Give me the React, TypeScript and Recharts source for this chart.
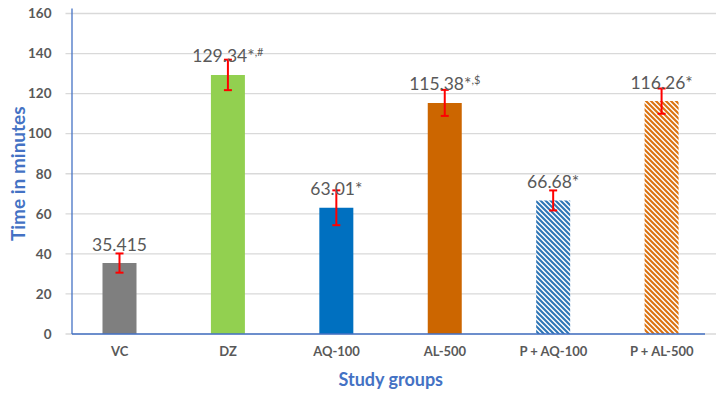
import React from 'react';
import { BarChart, Bar, XAxis, YAxis, CartesianGrid, Cell, ErrorBar, LabelList, Label } from 'recharts';

const categories = ['VC', 'DZ', 'AQ-100', 'AL-500', 'P + AQ-100', 'P + AL-500'];
const means = [35.415, 129.34, 63.01, 115.38, 66.68, 116.26];
const errors = [4.8, 7.6, 8.7, 6.5, 5.0, 6.3];
const labelMain = ['35.415', '129.34*', '63.01*', '115.38*', '66.68*', '116.26*'];
const labelSup = ['', ',#', '', ',$', '', ''];
const fills = ['#7F7F7F', '#92D050', '#0070C0', '#CC6600', 'url(#stripeBlue)', 'url(#stripeOrange)'];
const yTicks = [0, 20, 40, 60, 80, 100, 120, 140, 160];

const data = categories.map((name, i) => ({
  name,
  value: means[i],
  err: errors[i],
  main: labelMain[i],
  sup: labelSup[i],
}));

const FONT = 'Lato, "Open Sans", sans-serif';
const BLUE = '#4472C4';

const ValueLabel = (props: any) => {
  const { x, y, width, index } = props;
  const cx = x + width / 2;
  return (
    <text x={cx} y={y - 12.5} textAnchor="middle" fontFamily={FONT} fontSize={17.5} fill="#595959">
      <tspan>{labelMain[index]}</tspan>
      {labelSup[index] ? (
        <tspan fontSize={11} dy={-6}>{labelSup[index]}</tspan>
      ) : null}
    </text>
  );
};

export default function App() {
  return (
    <div style={{ position: 'relative', width: 728, height: 409, margin: -8, background: '#fff' }}>
      <BarChart
        width={728}
        height={409}
        data={data}
        margin={{ top: 13.5, right: 12, bottom: 45, left: 0 }}
        barCategoryGap={0}
      >
        <defs>
          <pattern id="stripeBlue" width="5" height="5" patternUnits="userSpaceOnUse">
            <rect width="5" height="5" fill="#ffffff" />
            <path d="M0,0 L5,5 M-1,4 L1,6 M4,-1 L6,1" stroke="#2E75B6" strokeWidth="2.1" />
          </pattern>
          <pattern id="stripeOrange" width="5" height="5" patternUnits="userSpaceOnUse">
            <rect width="5" height="5" fill="#ffffff" />
            <path d="M0,0 L5,5 M-1,4 L1,6 M4,-1 L6,1" stroke="#DB7210" strokeWidth="2.1" />
          </pattern>
        </defs>
        <CartesianGrid vertical={false} stroke="#D9D9D9" strokeWidth={1.3} />
        <XAxis
          dataKey="name"
          axisLine={false}
          tickLine={false}
          tickSize={0}
          tickMargin={13}
          interval={0}
          height={30}
          tick={{ fill: '#595959', fontFamily: FONT, fontWeight: 700, fontSize: 13 }}
        >
          <Label
            content={(p: any) => {
              const vb = p.viewBox;
              return (
                <g>
                  <line x1={vb.x + 6.5} x2={vb.x + vb.width - 11} y1={vb.y} y2={vb.y} stroke={BLUE} strokeWidth={1.3} />
                  <text
                    x={vb.x + vb.width / 2}
                    y={vb.y + 52}
                    textAnchor="middle"
                    fontFamily={FONT}
                    fontWeight={700}
                    fontSize={18}
                    fill={BLUE}
                  >
                    Study groups
                  </text>
                </g>
              );
            }}
          />
        </XAxis>
        <YAxis
          domain={[0, 160]}
          ticks={yTicks}
          width={65.5}
          axisLine={false}
          tickLine={false}
          tickSize={0}
          tickMargin={14}
          tick={{ fill: '#595959', fontFamily: FONT, fontWeight: 700, fontSize: 13.5 }}
        >
          <Label
            content={(p: any) => {
              const vb = p.viewBox;
              const ax = vb.x + vb.width + 6.5;
              const cy = vb.y + vb.height / 2;
              return (
                <g>
                  <line x1={ax} x2={ax} y1={vb.y - 5} y2={vb.y + vb.height} stroke={BLUE} strokeWidth={1.3} />
                  <text
                    x={17}
                    y={cy}
                    transform={`rotate(-90, 17, ${cy})`}
                    textAnchor="middle"
                    dominantBaseline="central"
                    fontFamily={FONT}
                    fontWeight={700}
                    fontSize={19}
                    fill={BLUE}
                  >
                    Time in minutes
                  </text>
                </g>
              );
            }}
          />
        </YAxis>
        <Bar dataKey="value" barSize={34} isAnimationActive={false}>
          {data.map((d, i) => (
            <Cell key={d.name} fill={fills[i]} />
          ))}
          <ErrorBar dataKey="err" stroke="#FF0000" strokeWidth={2} width={4} isAnimationActive={false} />
          <LabelList dataKey="main" content={ValueLabel} />
        </Bar>
      </BarChart>
      <div
        style={{
          position: 'absolute',
          left: 0,
          top: 0,
          width: 728,
          height: 409,
          boxSizing: 'border-box',
          border: '1px solid #D9D9D9',
          pointerEvents: 'none',
        }}
      />
    </div>
  );
}
